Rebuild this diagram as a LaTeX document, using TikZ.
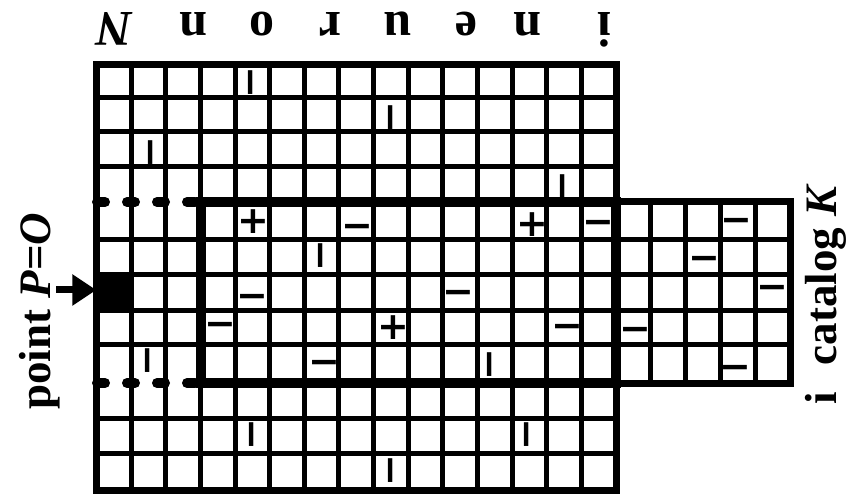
\documentclass[tikz,border=0pt]{standalone}
\usepackage{fontspec}
\setmainfont{Liberation Serif}
\newfontfamily\signfont{DejaVu Sans}
\usetikzlibrary{arrows.meta}
\tikzset{
  gridline/.style={line width=5pt},
  gridborder/.style={line width=7pt},
  thickframe/.style={line width=10pt},
  dotrule/.style={line width=10pt, line cap=round, dash pattern=on 8pt off 22pt},
  sign/.style={font=\signfont\bfseries\fontsize{38}{38}\selectfont, inner sep=0pt},
  minussign/.style={sign, yshift=-4.4pt},
  barsign/.style={sign, xshift=4.4pt, rotate=90},
  toplabel/.style={font=\bfseries\fontsize{50}{50}\selectfont, rotate=180, anchor=base, inner sep=0pt},
  sidelabel/.style={font=\bfseries\fontsize{45}{45}\selectfont, rotate=90, anchor=base west, inner sep=0pt},
  pointer/.style={line width=7pt, -{Triangle[length=24pt, width=30pt]}},
}
\begin{document}
\begin{tikzpicture}[x=1pt, y=-1pt]
  \useasboundingbox (0,0) rectangle (851,502);
  % main grid
  \foreach \k in {1,...,14}
    \draw[gridline] ({96.5+34.63*\k},65) -- ({96.5+34.63*\k},490);
  \foreach \yy in {97.5,132,167,240,275,311,345,418,453}
    \draw[gridline] (96.5,\yy) -- (616,\yy);
  \draw[gridborder] (96.5,65) rectangle (616,490);
  % catalog part
  \foreach \k in {1,...,4}
    \draw[gridline] ({616+34.8*\k},202) -- ({616+34.8*\k},383);
  \foreach \yy in {240,275,311,345}
    \draw[gridline] (616,\yy) -- (790,\yy);
  \draw[gridborder] (616,202) rectangle (790,383);
  \draw[thickframe] (201,202) rectangle (616,383);
  \draw[dotrule] (97,202) -- (196,202);
  \draw[dotrule] (97,383) -- (196,383);
  % point cell
  \node[fill=black, minimum width=36pt, minimum height=36pt, inner sep=0pt] (origincell) at (114.5,293) {};
  \coordinate (arrowtail) at (56,290);
  \draw[pointer] (arrowtail) -- (arrowtail -| origincell.west);
  % signs
  \foreach \px/\py [count=\n] in {253/222, 532/225, 393/328}
    \node[sign] (plus\n) at (\px,\py) {+};
  \foreach \px/\py [count=\n] in {357/227, 598/223, 736/221, 704/259, 252/297, 458/293, 772/288,
      220/325, 567/327, 635/330, 324/363, 735/368}
    \node[minussign] (minus\n) at (\px,\py) {−};
  \foreach \px/\py [count=\n] in {251/83, 391/118, 151/153, 563/187, 321/256, 148/361,
      490/365, 252/435, 527/435, 391/471}
    \node[barsign] (bar\n) at (\px,\py) {−};
  % labels
  \foreach \ch/\px [count=\n] in {i/605, n/528, e/466, u/398, r/330, o/262, n/194}
    \node[toplabel] (top\n) at (\px,13) {\ch};
  \node[toplabel] (neuronN) at (114,13) {\itshape N};
  \node[sidelabel] (pointlabel) at (50,410) {point \textit{P}=\textit{O}};
  \node[sidelabel] (cataloglabel) at (836,405) {i\hspace{0.6em}catalog \textit{K}};
\end{tikzpicture}
\end{document}
